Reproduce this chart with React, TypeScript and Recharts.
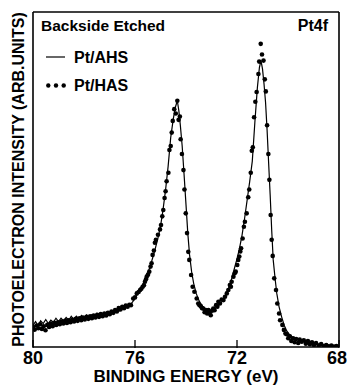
import { ComposedChart, Line, Scatter, XAxis, YAxis, Legend, Label } from "recharts";

// binding energy (eV), intensity (arb. units, 0-100 of the frame)
const ahsPoints: [number, number][] = [
  [80.0, 6.5], [79.9, 7.6], [79.8, 6.4], [79.7, 7.8], [79.6, 7.0], [79.5, 8.2],
  [79.4, 7.0], [79.3, 8.0], [79.2, 7.4], [79.1, 8.6], [79.0, 7.6], [78.9, 8.6],
  [78.8, 7.8], [78.7, 8.8], [78.6, 8.0], [78.5, 9.2], [78.4, 8.2], [78.3, 9.2],
  [78.2, 8.4], [78.1, 9.4], [78.0, 8.6], [77.9, 9.6], [77.8, 8.8], [77.7, 9.6],
  [77.6, 9.0], [77.5, 10.0], [77.4, 9.2], [77.3, 10.0], [77.2, 9.4], [77.1, 10.4],
  [77.0, 9.8], [76.9, 10.6], [76.8, 10.2], [76.7, 11.0], [76.6, 10.8], [76.5, 11.6],
  [76.4, 11.6], [76.3, 12.2], [76.2, 12.6], [76.1, 13.4], [76.0, 14.5], [75.9, 15.8],
  [75.8, 17.0], [75.7, 18.6], [75.6, 20.2], [75.5, 22.0], [75.4, 24.2], [75.3, 26.8],
  [75.2, 29.5], [75.1, 32.5], [75.0, 36.0], [74.9, 41.0], [74.8, 47.0], [74.7, 54.0],
  [74.6, 62.5], [74.5, 68.0], [74.42, 71.5], [74.34, 73.5], [74.28, 70.5], [74.22, 66.0],
  [74.15, 60.0], [74.08, 52.0], [74.0, 42.5], [73.93, 34.0], [73.86, 27.5], [73.78, 22.5],
  [73.7, 19.0], [73.6, 16.0], [73.5, 14.0], [73.4, 12.6], [73.3, 11.6], [73.2, 11.0],
  [73.1, 10.6], [73.0, 10.6], [72.9, 11.2], [72.8, 11.9], [72.7, 12.6], [72.6, 13.4],
  [72.5, 14.6], [72.4, 16.2], [72.3, 18.2], [72.2, 20.6], [72.1, 23.5], [72.0, 26.3],
  [71.9, 29.5], [71.8, 33.5], [71.7, 38.5], [71.6, 44.0], [71.5, 49.5], [71.4, 55.5],
  [71.3, 67.0], [71.2, 77.5], [71.12, 83.5], [71.06, 85.5], [71.0, 83.0], [70.94, 78.5],
  [70.88, 73.0], [70.82, 64.8], [70.76, 55.0], [70.7, 45.5], [70.64, 35.0], [70.58, 26.0],
  [70.5, 20.0], [70.44, 16.0], [70.35, 12.0], [70.25, 9.0], [70.15, 6.5], [70.05, 4.8],
  [69.95, 3.8], [69.8, 2.8], [69.6, 2.2], [69.4, 1.8], [69.2, 1.4], [69.0, 1.1],
  [68.8, 0.9], [68.6, 0.7], [68.4, 0.5], [68.2, 0.4], [68.0, 0.3],
];

const hasPoints: [number, number][] = [
  [80.0, 6.0], [79.93, 5.2], [79.86, 6.4], [79.79, 5.6], [79.72, 6.8], [79.65, 5.4],
  [79.58, 6.2], [79.51, 5.0], [79.44, 6.6], [79.37, 6.0], [79.3, 7.0], [79.23, 6.2],
  [79.16, 7.2], [79.09, 6.6], [79.02, 7.4], [78.95, 6.8], [78.88, 7.6], [78.81, 7.0],
  [78.74, 7.8], [78.67, 7.2], [78.6, 8.0], [78.53, 7.4], [78.46, 8.2], [78.39, 7.6],
  [78.32, 8.4], [78.25, 7.8], [78.18, 8.6], [78.11, 8.0], [78.04, 8.8], [77.97, 8.2],
  [77.9, 9.0], [77.83, 8.4], [77.76, 9.2], [77.69, 8.6], [77.62, 9.4], [77.55, 8.8],
  [77.48, 9.6], [77.41, 9.0], [77.34, 9.8], [77.27, 9.2], [77.2, 10.0], [77.13, 9.4],
  [77.06, 10.2], [76.99, 9.8], [76.92, 10.6], [76.85, 10.2], [76.78, 11.0], [76.71, 10.6],
  [76.64, 11.6], [76.57, 11.2], [76.5, 12.0], [76.43, 11.6], [76.36, 12.4], [76.29, 12.0],
  [76.22, 12.6], [76.16, 12.5], [76.07, 14.5], [76.0, 14.8], [75.93, 16.0], [75.86, 16.4],
  [75.8, 17.0], [75.75, 17.4], [75.7, 18.0], [75.65, 18.4], [75.61, 19.5], [75.57, 20.2],
  [75.54, 21.0], [75.49, 21.6], [75.44, 22.5], [75.39, 24.0], [75.35, 25.0], [75.31, 27.5],
  [75.26, 28.8], [75.22, 31.1], [75.18, 32.0], [75.1, 33.5], [75.02, 35.1], [74.98, 36.4],
  [74.93, 39.0], [74.89, 40.9], [74.84, 44.5], [74.8, 46.5], [74.76, 49.5], [74.69, 52.0],
  [74.65, 58.8], [74.6, 60.0], [74.56, 64.0], [74.52, 67.5], [74.46, 71.0], [74.4, 69.7],
  [74.34, 73.5], [74.29, 67.8], [74.24, 68.8], [74.21, 62.0], [74.16, 57.6], [74.1, 52.8],
  [74.06, 47.0], [74.01, 39.9], [73.96, 34.0], [73.91, 28.4], [73.87, 26.0], [73.8, 21.5],
  [73.74, 18.0], [73.67, 16.5], [73.58, 14.5], [73.52, 13.0], [73.47, 12.5], [73.42, 12.2],
  [73.37, 11.6], [73.32, 11.5], [73.27, 10.4], [73.22, 11.0], [73.17, 10.0], [73.12, 11.0],
  [73.07, 10.2], [73.03, 9.5], [72.98, 10.8], [72.93, 11.5], [72.88, 11.0], [72.82, 12.5],
  [72.77, 12.0], [72.73, 13.5], [72.67, 13.0], [72.6, 14.2], [72.53, 14.0], [72.47, 15.0],
  [72.4, 16.0], [72.34, 17.0], [72.28, 18.5], [72.24, 18.0], [72.21, 19.5], [72.14, 21.0],
  [72.09, 22.0], [72.05, 22.5], [71.99, 24.5], [71.95, 26.0], [71.91, 27.0], [71.87, 28.5],
  [71.84, 29.5], [71.78, 32.4], [71.73, 35.9], [71.69, 37.4], [71.62, 39.9], [71.56, 44.7],
  [71.52, 47.0], [71.46, 52.0], [71.42, 58.6], [71.38, 59.6], [71.33, 68.6], [71.28, 73.2],
  [71.23, 76.1], [71.16, 81.5], [71.13, 85.2], [71.07, 90.5], [71.02, 87.3], [70.96, 85.5],
  [70.91, 79.9], [70.87, 76.3], [70.82, 66.2], [70.77, 57.6], [70.73, 49.9], [70.68, 39.4],
  [70.64, 32.0], [70.6, 27.2], [70.54, 20.5], [70.47, 17.0], [70.42, 13.0], [70.35, 10.0],
  [70.31, 8.0], [70.22, 6.6], [70.16, 5.1], [70.1, 4.0], [70.05, 3.8], [69.99, 2.6],
  [69.93, 3.2], [69.87, 1.8], [69.8, 2.6], [69.74, 1.4], [69.68, 2.4], [69.6, 1.2],
  [69.54, 2.2], [69.46, 1.6], [69.38, 2.0], [69.3, 1.0], [69.22, 1.8], [69.14, 0.8],
  [69.06, 1.4], [68.98, 0.6], [68.9, 1.2], [68.8, 0.4], [68.7, 0.9], [68.6, 0.3],
  [68.5, 0.6], [68.4, 0.2], [68.3, 0.4], [68.2, 0.1], [68.1, 0.3],
];

const minorTicks = [80, 79, 78, 77, 76, 75, 74, 73, 72, 71, 70, 69, 68];
const majorTicks = [80, 76, 72, 68];

const font = "'Liberation Sans', Arial, sans-serif";
const frame = { stroke: "#000", strokeWidth: 1.6 };
const tickStroke = { stroke: "#000", strokeWidth: 1.3 };

const ahsData = ahsPoints.map(([x, y]) => ({ x, y }));
const hasData = hasPoints.map(([x, y]) => ({ x, y }));

const MajorTick = (props: any) => {
  const { x, y, payload } = props;
  const dx = payload.value === 68 ? -2 : 0;
  return (
    <text x={x + dx} y={y} dy={12} textAnchor="middle" fontFamily={font} fontWeight="bold" fontSize={18} fill="#000">
      {payload.value}
    </text>
  );
};

const YTitle = (props: any) => {
  const { x, y, height } = props.viewBox;
  const cx = x - 8;
  const cy = y + height / 2;
  return (
    <text
      x={cx}
      y={cy}
      transform={`rotate(-90, ${cx}, ${cy})`}
      textAnchor="middle"
      fontFamily={font}
      fontWeight="bold"
      fontSize={16}
      fill="#000"
    >
      PHOTOELECTRON INTENSITY (ARB.UNITS)
    </text>
  );
};

const Annotations = () => (
  <svg width={347} height={385} style={{ position: "absolute", left: 0, top: 0 }}>
    <g fontFamily={font} fontWeight="bold" fill="#000">
      <text x={41} y={31} fontSize={15.5}>Backside Etched</text>
      <text x={328} y={31} fontSize={16} textAnchor="end">Pt4f</text>
      <line x1={46} x2={65} y1={57} y2={57} stroke="#000" strokeWidth={1.2} />
      <text x={74} y={62.5} fontSize={16}>Pt/AHS</text>
      <circle cx={48.3} cy={85.5} r={2.2} />
      <circle cx={56} cy={85.5} r={2.2} />
      <circle cx={63.7} cy={85.5} r={2.2} />
      <text x={74} y={90.5} fontSize={16}>Pt/HAS</text>
    </g>
  </svg>
);

export default function App() {
  return (
    <div style={{ position: "absolute", left: 0, top: 0, width: 347, height: 385, background: "#fff" }}>
      <ComposedChart width={347} height={385} margin={{ top: 11, right: 7, bottom: 0, left: 32 }}>
        <XAxis
          xAxisId="b"
          type="number"
          dataKey="x"
          domain={[68, 80]}
          reversed
          ticks={majorTicks}
          tick={MajorTick}
          tickSize={-8}
          tickMargin={12}
          tickLine={tickStroke}
          axisLine={false}
          height={37}
          allowDataOverflow
        >
          <Label
            value="BINDING ENERGY (eV)"
            position="insideBottom"
            offset={3}
            style={{ fontFamily: font, fontWeight: "bold", fontSize: 17, fill: "#000" }}
          />
        </XAxis>
        <XAxis
          xAxisId="a"
          type="number"
          dataKey="x"
          domain={[68, 80]}
          reversed
          ticks={minorTicks}
          tickFormatter={() => ""}
          tickSize={-4}
          tickLine={tickStroke}
          axisLine={frame}
          height={1}
        />
        <XAxis
          xAxisId="top"
          orientation="top"
          type="number"
          dataKey="x"
          domain={[68, 80]}
          reversed
          ticks={minorTicks}
          tickFormatter={() => ""}
          tickSize={-4}
          tickLine={tickStroke}
          axisLine={frame}
          height={1}
        />
        <YAxis
          yAxisId="left"
          type="number"
          dataKey="y"
          domain={[0, 100]}
          tick={false}
          tickLine={false}
          axisLine={frame}
          width={1}
          allowDataOverflow
        >
          <Label content={YTitle} />
        </YAxis>
        <YAxis
          yAxisId="right"
          orientation="right"
          type="number"
          domain={[0, 100]}
          tick={false}
          tickLine={false}
          axisLine={frame}
          width={1}
        />
        <Line
          xAxisId="b"
          yAxisId="left"
          data={ahsData}
          dataKey="y"
          type="linear"
          stroke="#000"
          strokeWidth={1.2}
          dot={false}
          isAnimationActive={false}
        />
        <Scatter
          xAxisId="b"
          yAxisId="left"
          data={hasData}
          fill="#000"
          shape={(p: any) => <circle cx={p.cx} cy={p.cy} r={2.3} fill="#000" />}
          isAnimationActive={false}
        />
        <Legend
          layout="vertical"
          align="center"
          verticalAlign="middle"
          wrapperStyle={{ left: 0, top: 0, width: 347, height: 385, pointerEvents: "none" }}
          content={() => <Annotations />}
        />
      </ComposedChart>
    </div>
  );
}
